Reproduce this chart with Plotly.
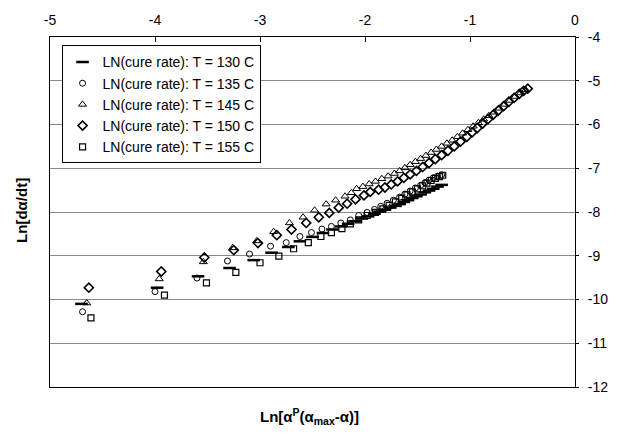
import plotly.graph_objects as go

# T = 130 C (dash markers)
x130 = [-4.70, -3.98, -3.59, -3.29, -3.06, -2.89, -2.73, -2.62, -2.50, -2.40, -2.31, -2.23, -2.16,
        -2.09, -2.03, -1.97, -1.91, -1.86, -1.81, -1.76, -1.71, -1.67, -1.63, -1.59, -1.55, -1.51,
        -1.47, -1.43, -1.39, -1.35, -1.31, -1.27]
y130 = [-10.10, -9.73, -9.47, -9.28, -9.10, -8.93, -8.80, -8.67, -8.57, -8.48, -8.40, -8.33, -8.27,
        -8.21, -8.15, -8.10, -8.04, -7.99, -7.95, -7.90, -7.86, -7.82, -7.77, -7.73, -7.68, -7.64,
        -7.60, -7.55, -7.51, -7.47, -7.42, -7.38]

# T = 135 C (circles)
x135 = [-4.69, -4.00, -3.60, -3.31, -3.10, -2.90, -2.75, -2.62, -2.51, -2.41, -2.32, -2.23, -2.14,
        -2.06, -1.98, -1.91, -1.85, -1.79, -1.73, -1.67, -1.62, -1.57, -1.52, -1.47, -1.43, -1.39,
        -1.35, -1.31, -1.27]
y135 = [-10.28, -9.82, -9.51, -9.12, -8.96, -8.78, -8.70, -8.56, -8.47, -8.39, -8.33, -8.25, -8.18,
        -8.08, -8.01, -7.94, -7.87, -7.80, -7.73, -7.66, -7.59, -7.52, -7.45, -7.39, -7.33, -7.27,
        -7.22, -7.18, -7.15]

# T = 145 C (triangles)
x145 = [-4.65, -3.96, -3.54, -3.26, -3.03, -2.87, -2.72, -2.59, -2.48, -2.37, -2.28, -2.19, -2.13,
        -2.08, -2.02, -1.96, -1.90, -1.84, -1.78, -1.72, -1.67, -1.62, -1.57, -1.52, -1.47, -1.42,
        -1.37, -1.32, -1.27, -1.22, -1.17, -1.12, -1.07, -1.02, -0.97, -0.92, -0.87, -0.82, -0.77,
        -0.72, -0.67, -0.62, -0.57, -0.52, -0.47]
y145 = [-10.08, -9.53, -9.14, -8.82, -8.66, -8.45, -8.25, -8.12, -7.96, -7.82, -7.73, -7.64, -7.56,
        -7.47, -7.42, -7.36, -7.30, -7.24, -7.18, -7.12, -7.06, -6.99, -6.92, -6.85, -6.78, -6.71,
        -6.64, -6.57, -6.50, -6.43, -6.36, -6.28, -6.20, -6.12, -6.04, -5.96, -5.88, -5.80, -5.72,
        -5.63, -5.54, -5.45, -5.36, -5.28, -5.21]

# T = 150 C (diamonds)
x150 = [-4.63, -3.94, -3.53, -3.25, -3.02, -2.84, -2.70, -2.56, -2.44, -2.34, -2.25, -2.17, -2.09,
        -2.01, -1.95, -1.87, -1.81, -1.75, -1.69, -1.63, -1.57, -1.51, -1.45, -1.39, -1.33, -1.27,
        -1.21, -1.15, -1.09, -1.03, -0.98, -0.93, -0.88, -0.83, -0.78, -0.73, -0.68, -0.63, -0.58,
        -0.53, -0.49, -0.45]
y150 = [-9.73, -9.36, -9.04, -8.87, -8.71, -8.53, -8.40, -8.25, -8.12, -8.02, -7.90, -7.81, -7.71,
        -7.62, -7.54, -7.49, -7.44, -7.37, -7.30, -7.22, -7.14, -7.06, -6.97, -6.88, -6.79, -6.70,
        -6.60, -6.50, -6.39, -6.28, -6.18, -6.08, -5.98, -5.88, -5.78, -5.68, -5.58, -5.48, -5.39,
        -5.30, -5.23, -5.18]

# T = 155 C (squares)
x155 = [-4.61, -3.91, -3.51, -3.23, -3.00, -2.82, -2.68, -2.54, -2.42, -2.32, -2.22, -2.14, -2.06,
        -1.98, -1.90, -1.83, -1.77, -1.71, -1.65, -1.60, -1.55, -1.50, -1.45, -1.41, -1.37, -1.33,
        -1.29, -1.26]
y155 = [-10.42, -9.90, -9.62, -9.38, -9.16, -9.01, -8.84, -8.70, -8.56, -8.47, -8.38, -8.27, -8.18,
        -8.08, -8.01, -7.93, -7.85, -7.77, -7.69, -7.61, -7.54, -7.47, -7.40, -7.34, -7.28, -7.23,
        -7.19, -7.16]

names = ["LN(cure rate): T = 130 C", "LN(cure rate): T = 135 C", "LN(cure rate): T = 145 C",
         "LN(cure rate): T = 150 C", "LN(cure rate): T = 155 C"]
xticks = [-5, -4, -3, -2, -1, 0]
xticklabels = ["-5", "-4", "-3", "-2", "-1", "0"]
yticks = [-12, -11, -10, -9, -8, -7, -6, -5, -4]
yticklabels = ["-12", "-11", "-10", "-9", "-8", "-7", "-6", "-5", "-4"]

FONT = "Liberation Sans, Arial, sans-serif"

fig = go.Figure()
series = [
    (x130, y130, dict(symbol="line-ew", size=9, line=dict(color="black", width=2.5))),
    (x135, y135, dict(symbol="circle-open", size=6, color="black", line=dict(color="black", width=1))),
    (x145, y145, dict(symbol="triangle-up-open", size=7, color="black", line=dict(color="black", width=1))),
    (x150, y150, dict(symbol="diamond-open", size=7, color="black", line=dict(color="black", width=1.6))),
    (x155, y155, dict(symbol="square-open", size=6, color="black", line=dict(color="black", width=1.2))),
]
for (xs, ys, mk), nm in zip(series, names):
    fig.add_trace(go.Scatter(x=xs, y=ys, mode="markers", name=nm, marker=mk))

fig.update_layout(
    width=629, height=435,
    margin=dict(l=50, r=54, t=28, b=48),
    paper_bgcolor="white", plot_bgcolor="white",
    font=dict(family=FONT, size=13, color="black"),
    showlegend=True,
    legend=dict(x=0.022, y=0.976, xanchor="left", yanchor="top",
                bordercolor="black", borderwidth=1, bgcolor="white",
                font=dict(size=14, family=FONT), traceorder="normal",
                itemwidth=30, itemsizing="trace"),
    xaxis=dict(range=[-5, 0], side="top", tickvals=xticks, ticktext=xticklabels,
               showgrid=False, zeroline=False,
               showline=True, mirror=True, linecolor="black", linewidth=1,
               ticks="inside", ticklen=5, tickcolor="black", ticklabelstandoff=5,
               tickfont=dict(size=14, family=FONT)),
    yaxis=dict(range=[-12, -4], side="right", tickvals=yticks, ticktext=yticklabels,
               showgrid=True, gridcolor="#8a8a8a", gridwidth=1, zeroline=False,
               showline=True, mirror=True, linecolor="black", linewidth=1,
               ticks="outside", ticklen=3, tickcolor="black", ticklabelstandoff=6,
               tickfont=dict(size=14, family=FONT)),
    annotations=[
        dict(text="<b>Ln[α<sup>P</sup>(α<sub>max</sub>-α)]</b>", xref="paper", yref="paper",
             x=0.495, y=-0.085, xanchor="center", yanchor="middle", showarrow=False,
             font=dict(size=15, family=FONT)),
        dict(text="<b>Ln[dα/dt]</b>", xref="paper", yref="paper", textangle=-90,
             x=-0.054, y=0.505, xanchor="center", yanchor="middle", showarrow=False,
             font=dict(size=15, family=FONT)),
    ],
)

fig.write_html("out.html")
